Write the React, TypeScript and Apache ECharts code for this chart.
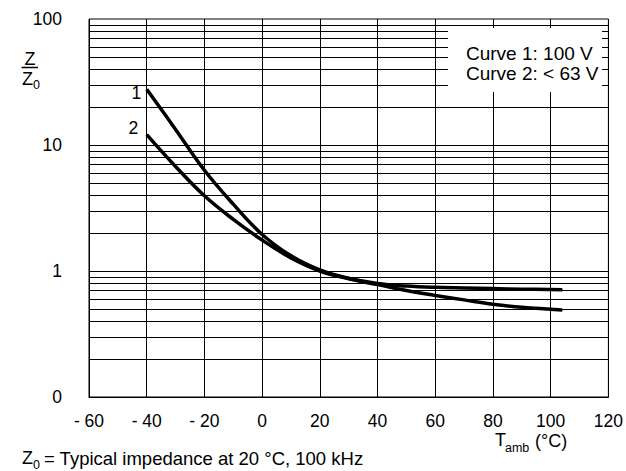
import React, { useEffect, useRef } from "react";
import * as echarts from "echarts";

const xTicks = [-60, -40, -20, 0, 20, 40, 60, 80, 100, 120];
const curve1 = [
  [-40, 27.7], [-30, 13.3], [-20, 6.3], [-10, 3.39], [0, 1.95], [10, 1.32], [20, 1.02],
  [30, 0.875], [40, 0.795], [50, 0.76], [60, 0.742], [70, 0.733], [80, 0.725], [90, 0.718], [104, 0.71],
];
const curve2 = [
  [-40, 12.1], [-30, 6.76], [-20, 3.95], [-10, 2.57], [0, 1.76], [10, 1.27], [20, 1.0],
  [30, 0.867], [40, 0.78], [50, 0.7], [60, 0.64], [70, 0.59], [80, 0.545], [90, 0.515], [104, 0.49],
];
const gridLevels = [
  0.2, 0.3, 0.4, 0.5, 0.6, 0.7, 0.8, 0.9, 1,
  2, 3, 4, 5, 6, 7, 8, 9, 10,
  20, 30, 40, 50, 60, 70, 80, 90,
];
const legendLines = ["Curve 1: 100 V", "Curve 2: < 63 V"];
const curveNames = ["1", "2"];

const FONT = "Liberation Sans, Arial, Helvetica, sans-serif";
const FS = 17.5;

function withLabel(data: number[][], name: string, offsetY: number, dist: number) {
  return data.map((d, i) =>
    i === 0
      ? {
          value: d,
          label: {
            show: true,
            formatter: name,
            position: "left",
            distance: dist,
            offset: [0, offsetY],
            color: "#000",
            fontFamily: FONT,
            fontSize: FS,
          },
        }
      : { value: d }
  );
}

export default function App() {
  const ref = useRef<HTMLDivElement>(null);
  useEffect(() => {
    document.body.style.margin = "0";
    const chart = echarts.init(ref.current!, null, { renderer: "svg" });
    const txt = (text: string, x: number, y: number, size: number, align = "left", z = 101) => ({
      type: "text",
      x,
      y,
      z,
      style: {
        text,
        fill: "#000",
        font: `${size}px ${FONT}`,
        textAlign: align,
        textVerticalAlign: "middle",
      },
    });
    chart.setOption({
      animation: false,
      backgroundColor: "#fff",
      grid: {
        left: 89,
        top: 19,
        right: 14,
        bottom: 74,
        show: true,
        borderColor: "#000",
        borderWidth: 1,
      },
      xAxis: {
        type: "value",
        min: -60,
        max: 120,
        interval: 20,
        axisLine: { show: true, lineStyle: { color: "#000", width: 1 } },
        axisTick: { show: false },
        splitLine: { show: true, lineStyle: { color: "#000", width: 1 } },
        axisLabel: {
          margin: 15,
          color: "#000",
          fontFamily: FONT,
          fontSize: FS,
          formatter: (v: number) => (v < 0 ? "- " + Math.abs(v) : String(v)),
        },
      },
      yAxis: {
        type: "log",
        logBase: 10,
        min: 0.1,
        max: 100,
        interval: 1,
        axisLine: { show: true, lineStyle: { color: "#000", width: 1 } },
        axisTick: { show: false },
        splitLine: { show: false },
        axisLabel: {
          margin: 27,
          color: "#000",
          fontFamily: FONT,
          fontSize: FS,
          formatter: (v: number) => (v < 0.5 ? "0" : String(Math.round(v))),
        },
      },
      series: [
        {
          type: "line",
          name: "Curve 1",
          data: withLabel(curve1, curveNames[0], 4, 5),
          smooth: 0.4,
          showSymbol: true,
          symbol: "circle",
          symbolSize: 1,
          itemStyle: { color: "#000" },
          lineStyle: { color: "#000", width: 3.5 },
          silent: true,
          z: 5,
          markLine: {
            silent: true,
            symbol: "none",
            label: { show: false },
            lineStyle: { color: "#000", width: 1, type: "solid" },
            data: gridLevels.map((v) => ({ yAxis: v })),
          },
        },
        {
          type: "line",
          name: "Curve 2",
          data: withLabel(curve2, curveNames[1], -7, 8),
          smooth: 0.4,
          showSymbol: true,
          symbol: "circle",
          symbolSize: 1,
          itemStyle: { color: "#000" },
          lineStyle: { color: "#000", width: 3.5 },
          silent: true,
          z: 5,
        },
      ],
      graphic: [
        {
          type: "rect",
          z: 100,
          shape: { x: 448, y: 28, width: 154, height: 64 },
          style: { fill: "#fff", stroke: null },
        },
        txt(legendLines[0], 466, 53, 19),
        txt(legendLines[1], 466, 73, 19),
        txt("Z", 30, 59, 18, "center"),
        {
          type: "line",
          z: 101,
          shape: { x1: 21.5, y1: 67.5, x2: 38, y2: 67.5 },
          style: { stroke: "#000", lineWidth: 1.5 },
        },
        txt("Z", 22, 79, 18),
        txt("0", 33, 85, 12.5),
        txt("T", 495, 440, 18),
        txt("amb", 505, 448, 12.5),
        txt("(°C)", 535, 441, 18),
        txt("Z", 22, 458, 18),
        txt("0", 33, 465, 12.5),
        txt("= Typical impedance at 20 °C, 100 kHz", 44, 458, 18.5),
      ],
    });
    return () => chart.dispose();
  }, []);
  return <div ref={ref} style={{ width: 626, height: 471 }} />;
}
